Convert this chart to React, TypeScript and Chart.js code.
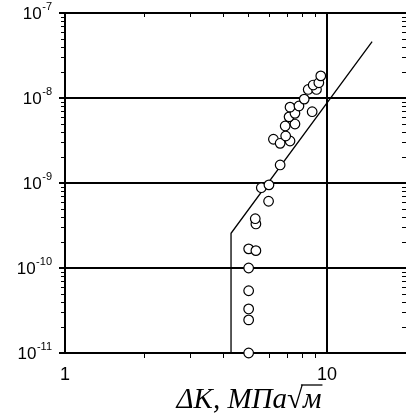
import React, { useEffect, useRef } from "react";
import { Chart, registerables } from "chart.js";

Chart.register(...registerables);

// Measured data: ΔK (MPa·√m) vs crack growth rate
const deltaK: number[] = [
  5.02, 5.02, 5.02, 5.02, 5.02, 5.02, 5.35, 5.35, 5.32,
  5.98, 5.61, 6.0, 6.62,
  6.24, 6.62, 7.22, 6.95, 6.92, 7.54, 7.16, 7.54, 7.22, 7.81,
  8.77, 8.18, 8.47, 9.11, 8.85, 9.3, 9.46,
];
const rate: number[] = [
  1.0e-11, 2.45e-11, 3.3e-11, 5.4e-11, 1.0e-10, 1.68e-10, 1.6e-10, 3.3e-10, 3.8e-10,
  6.1e-10, 8.8e-10, 9.5e-10, 1.63e-9,
  3.27e-9, 2.93e-9, 3.12e-9, 3.57e-9, 4.69e-9, 4.94e-9, 6.0e-9, 6.6e-9, 7.8e-9, 8.05e-9,
  6.9e-9, 9.7e-9, 1.26e-8, 1.26e-8, 1.42e-8, 1.51e-8, 1.82e-8,
];

// Fitted threshold + Paris line
const fitK: number[] = [4.3, 4.3, 14.85];
const fitRate: number[] = [1e-11, 2.56e-10, 4.6e-8];

const xMin = 1;
const xMax = 20;
const yMin = 1e-11;
const yMax = 1e-7;
const xTickLabels: number[] = [1, 10];
const yTickExponents: number[] = [-7, -8, -9, -10, -11];
const xGridValues: number[] = [10];
const yGridExponents: number[] = [-10, -9, -8];
const xTitleMain = "ΔK, МПа";
const xTitleRoot = "√";
const xTitleUnder = "м";

const TITLE_SIZE = 29;

const framePlugin = {
  id: "frame",
  beforeDatasetsDraw(chart: any) {
    const { ctx, chartArea } = chart;
    const xs = chart.scales.x;
    const ys = chart.scales.y;
    const L = chartArea.left, R = chartArea.right, T = chartArea.top, B = chartArea.bottom;
    ctx.save();
    ctx.strokeStyle = "#000";
    ctx.lineCap = "butt";
    ctx.lineWidth = 2;
    ctx.beginPath();
    for (const e of yGridExponents) {
      const y = Math.round(ys.getPixelForValue(Math.pow(10, e)));
      ctx.moveTo(L, y);
      ctx.lineTo(R, y);
    }
    for (const v of xGridValues) {
      const x = Math.round(xs.getPixelForValue(v));
      ctx.moveTo(x, T);
      ctx.lineTo(x, B);
    }
    ctx.moveTo(L - 1, T);
    ctx.lineTo(R, T);
    ctx.moveTo(L - 1, B);
    ctx.lineTo(R, B);
    ctx.moveTo(L, T);
    ctx.lineTo(L, B);
    ctx.stroke();
    ctx.beginPath();
    for (const e of yTickExponents) {
      const y = Math.round(ys.getPixelForValue(Math.pow(10, e)));
      ctx.moveTo(L - 6, y);
      ctx.lineTo(L, y);
    }
    ctx.stroke();
    ctx.lineWidth = 1;
    ctx.beginPath();
    for (let e = -11; e < -7; e++) {
      for (let m = 2; m <= 9; m++) {
        const y = Math.round(ys.getPixelForValue(m * Math.pow(10, e))) + 0.5;
        ctx.moveTo(L - 4, y);
        ctx.lineTo(L, y);
        ctx.moveTo(R - 4, y);
        ctx.lineTo(R, y);
      }
    }
    for (let m = 2; m <= 9; m++) {
      const x = Math.round(xs.getPixelForValue(m)) + 0.5;
      ctx.moveTo(x, B);
      ctx.lineTo(x, B + 5);
      ctx.moveTo(x, T);
      ctx.lineTo(x, T + 4);
    }
    ctx.stroke();
    ctx.restore();
  },
  afterDraw(chart: any) {
    const { ctx, chartArea } = chart;
    const xs = chart.scales.x;
    const ys = chart.scales.y;
    ctx.save();
    ctx.fillStyle = "#000";
    const right = chartArea.left - 13;
    for (const e of yTickExponents) {
      const y = ys.getPixelForValue(Math.pow(10, e));
      const sup = String(e);
      ctx.font = "11px 'Liberation Sans', Arial, sans-serif";
      const sw = ctx.measureText(sup).width;
      ctx.textAlign = "left";
      ctx.textBaseline = "alphabetic";
      ctx.fillText(sup, right - sw, y - 3);
      ctx.font = "17px 'Liberation Sans', Arial, sans-serif";
      ctx.textAlign = "right";
      ctx.fillText("10", right - sw - 0.5, y + 6);
    }
    ctx.font = "18px 'Liberation Sans', Arial, sans-serif";
    ctx.textAlign = "center";
    ctx.textBaseline = "alphabetic";
    for (const v of xTickLabels) {
      const x = xs.getPixelForValue(v);
      ctx.fillText(String(v), x, chartArea.bottom + 27);
    }
    const italic = `italic ${TITLE_SIZE}px 'Liberation Serif', 'Times New Roman', serif`;
    const upright = `${TITLE_SIZE}px 'Liberation Serif', 'Times New Roman', serif`;
    ctx.textAlign = "left";
    ctx.font = italic;
    const wMain = ctx.measureText(xTitleMain).width;
    ctx.font = upright;
    const wRoot = ctx.measureText(xTitleRoot).width;
    ctx.font = italic;
    const wUnder = ctx.measureText(xTitleUnder).width;
    const total = wMain + wRoot + wUnder;
    const cx = 249;
    const baseY = chartArea.bottom + 55;
    let x0 = cx - total / 2;
    ctx.fillText(xTitleMain, x0, baseY);
    x0 += wMain;
    ctx.font = upright;
    ctx.fillText(xTitleRoot, x0, baseY);
    const barY = baseY - Math.round(TITLE_SIZE * 0.78);
    x0 += wRoot;
    ctx.font = italic;
    ctx.fillText(xTitleUnder, x0, baseY);
    ctx.lineWidth = 1.3;
    ctx.beginPath();
    ctx.moveTo(x0 - 2, barY);
    ctx.lineTo(x0 + wUnder + 1, barY);
    ctx.stroke();
    ctx.restore();
  },
};

export default function App() {
  const canvasRef = useRef<HTMLCanvasElement | null>(null);
  useEffect(() => {
    const canvas = canvasRef.current;
    if (!canvas) return;
    const points = deltaK.map((k, i) => ({ x: k, y: rate[i] }));
    const fit = fitK.map((k, i) => ({ x: k, y: fitRate[i] }));
    const chart = new Chart(canvas, {
      type: "scatter",
      data: {
        datasets: [
          {
            label: "data",
            data: points,
            pointRadius: 4.8,
            pointStyle: "circle",
            backgroundColor: "#fff",
            borderColor: "#000",
            borderWidth: 1.2,
            clip: false,
          } as any,
          {
            label: "fit",
            data: fit,
            showLine: true,
            pointRadius: 0,
            borderColor: "#000",
            borderWidth: 1.3,
            tension: 0,
            clip: false,
          } as any,
        ],
      },
      options: {
        animation: false,
        responsive: false,
        devicePixelRatio: 1,
        layout: { padding: { left: 65, right: 3.5, top: 13, bottom: 66 } },
        plugins: {
          legend: { display: false },
          tooltip: { enabled: false },
        },
        scales: {
          x: { type: "logarithmic", min: xMin, max: xMax, display: false },
          y: { type: "logarithmic", min: yMin, max: yMax, display: false },
        },
      },
      plugins: [framePlugin],
    });
    return () => chart.destroy();
  }, []);
  return (
    <div
      style={{
        position: "fixed",
        left: 0,
        top: 0,
        width: 406,
        height: 419,
        overflow: "hidden",
        background: "#fff",
      }}
    >
      <canvas ref={canvasRef} width={412} height={419} style={{ display: "block" }} />
    </div>
  );
}
